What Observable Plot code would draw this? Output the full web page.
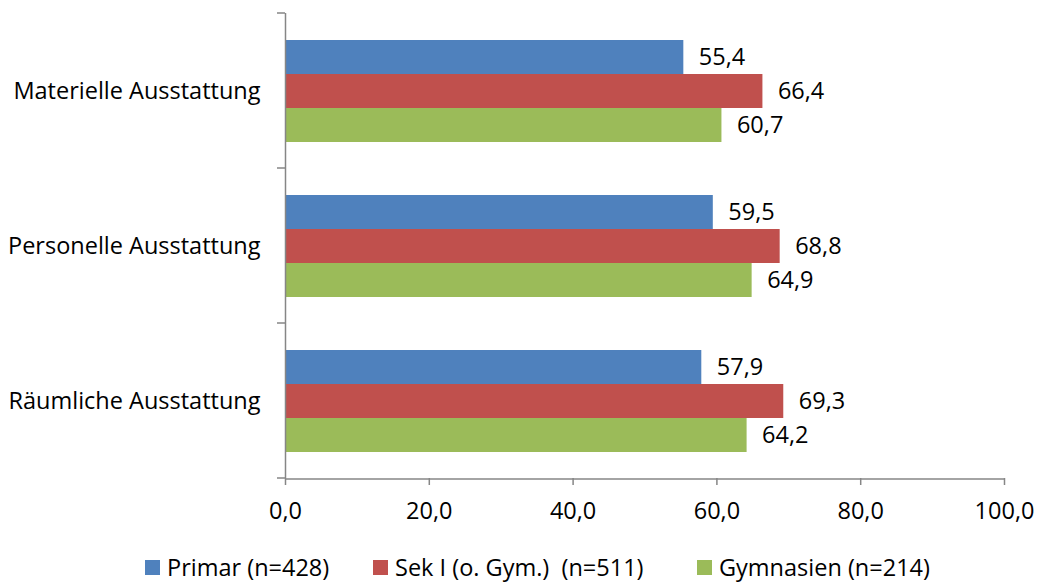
<!DOCTYPE html>
<html>
<head>
<meta charset="utf-8">
<script src="https://cdn.jsdelivr.net/npm/d3@7"></script>
<script src="https://cdn.jsdelivr.net/npm/@observablehq/plot@0.6"></script>
<style>
  html, body { margin: 0; padding: 0; background: #fff; }
  #chart { width: 1037px; font-family: "Open Sans", Lato, sans-serif; }
  .legend { position: relative; height: 42px; font-size: 23.5px; color: #000; }
  .legend .item { position: absolute; top: 12px; height: 30px; display: flex; align-items: center; white-space: pre; line-height: 30px; }
  .legend .sw { width: 15px; height: 15px; margin-right: 7px; }
</style>
</head>
<body>
<div id="chart"></div>
<script>
const categories = ["Materielle Ausstattung", "Personelle Ausstattung", "Räumliche Ausstattung"];
const series = ["Primar (n=428)", "Sek I (o. Gym.)  (n=511)", "Gymnasien (n=214)"];
const primar = [55.4, 59.5, 57.9];
const sekI = [66.4, 68.8, 69.3];
const gymnasien = [60.7, 64.9, 64.2];
const colors = ["#4F81BD", "#C0504D", "#9BBB59"];
const xTicks = [0, 20, 40, 60, 80, 100];
const legendLeft = [145, 373, 697];

const valuesBySeries = [primar, sekI, gymnasien];
const rows = [];
categories.forEach((c, i) => {
  series.forEach((s, j) => rows.push({category: c, series: s, value: valuesBySeries[j][i]}));
});
const fmt = d => d.toFixed(1).replace(".", ",");

const W = 1037, H = 540, mL = 285, mR = 33, mT = 12, mB = 61;
const FONT = "'Open Sans', Lato, sans-serif";
const FS = 23.5;
const plot = Plot.plot({
  width: W, height: H,
  marginLeft: mL, marginRight: mR, marginTop: mT, marginBottom: mB,
  style: {fontFamily: FONT, fontSize: FS + "px", color: "#000", background: "#fff"},
  x: {domain: [0, 100], axis: null},
  y: {domain: series, paddingInner: 0, paddingOuter: 0.73, axis: null},
  fy: {domain: categories, padding: 0, label: null, axis: null},
  color: {domain: series, range: colors},
  marks: [
    Plot.barX(rows, {fy: "category", y: "series", x: "value", fill: "series"}),
    Plot.text(rows, {fy: "category", y: "series", x: "value", text: d => fmt(d.value), textAnchor: "start", dx: 15, fill: "#000", fontSize: FS}),
    Plot.ruleX([0], {stroke: "#868686", strokeWidth: 1.5}),
    Plot.axisFy({anchor: "left", tickSize: 0, tickPadding: 25, label: null, fontSize: FS, fill: "#000"}),
    Plot.axisX({anchor: "bottom", ticks: xTicks, tickFormat: fmt, tickSize: 7, tickPadding: 17, stroke: "#868686", strokeWidth: 1.5, label: null, fontSize: FS, fill: "#000"})
  ]
});
document.getElementById("chart").appendChild(plot);

// category boundary ticks and x baseline, from the plot's scales
const fy = plot.scale("fy"), x = plot.scale("x");
const svg = d3.select(plot);
const x0 = x.apply(0), x1 = x.apply(100);
const edges = categories.map(c => fy.apply(c)).concat([fy.apply(categories[categories.length - 1]) + fy.bandwidth]);
const g = svg.append("g").attr("stroke", "#868686").attr("stroke-width", 1.5);
edges.forEach(yy => g.append("line").attr("x1", x0 - 8).attr("x2", x0).attr("y1", yy).attr("y2", yy));
g.append("line").attr("x1", x0).attr("x2", x1).attr("y1", H - mB).attr("y2", H - mB);

// legend
const leg = d3.select("#chart").append("div").attr("class", "legend");
series.forEach((s, i) => {
  const it = leg.append("div").attr("class", "item").style("left", legendLeft[i] + "px");
  it.append("div").attr("class", "sw").style("background", colors[i]);
  it.append("span").text(s);
});
</script>
</body>
</html>
